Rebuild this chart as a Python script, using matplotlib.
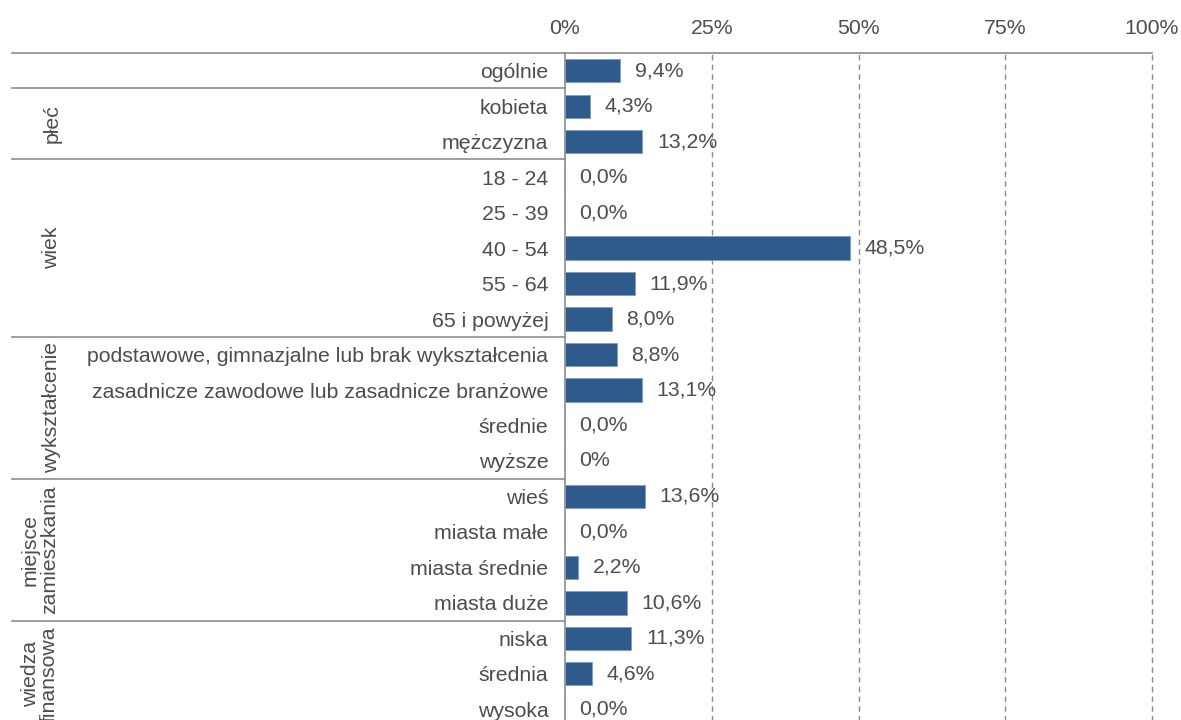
import matplotlib.pyplot as plt
from matplotlib.transforms import blended_transform_factory

plt.rcParams["font.family"] = ["Liberation Sans", "DejaVu Sans"]

# dane
categories = [
    "ogólnie",
    "kobieta", "mężczyzna",
    "18 - 24", "25 - 39", "40 - 54", "55 - 64", "65 i powyżej",
    "podstawowe, gimnazjalne lub brak wykształcenia",
    "zasadnicze zawodowe lub zasadnicze branżowe",
    "średnie", "wyższe",
    "wieś", "miasta małe", "miasta średnie", "miasta duże",
    "niska", "średnia", "wysoka",
]
values = [9.4, 4.3, 13.2, 0.0, 0.0, 48.5, 11.9, 8.0, 8.8, 13.1, 0.0, 0.0,
          13.6, 0.0, 2.2, 10.6, 11.3, 4.6, 0.0]
value_labels = ["9,4%", "4,3%", "13,2%", "0,0%", "0,0%", "48,5%", "11,9%", "8,0%",
                "8,8%", "13,1%", "0,0%", "0%", "13,6%", "0,0%", "2,2%", "10,6%",
                "11,3%", "4,6%", "0,0%"]
group_names = ["", "płeć", "wiek", "wykształcenie", "miejsce\nzamieszkania", "wiedza\nfinansowa"]
group_sizes = [1, 2, 5, 4, 4, 3]
x_ticks = [0, 25, 50, 75, 100]

BAR = "#2E5A8C"
TXT = "#4D4D4D"
LINE = "#8C8C8C"
FS = 15.3

fig = plt.figure(figsize=(11.81, 7.2), dpi=100)
left_px, right_px, top_px, bottom_px = 565, 1152, 53, 727
W, H = 1181, 720
ax = fig.add_axes([left_px / W, 1 - bottom_px / H,
                   (right_px - left_px) / W, (bottom_px - top_px) / H])

n = len(categories)
ypos = list(range(n))
ax.barh(ypos, values, height=0.66, color=BAR, edgecolor="#7E9CC4", linewidth=0.6, zorder=3)
ax.set_ylim(n - 0.5, -0.5)
ax.set_xlim(0, 100)

for y, v, lab in zip(ypos, values, value_labels):
    ax.annotate(lab, (v, y), xytext=(10.5, 0), textcoords="offset points",
                ha="left", va="center", fontsize=FS, color=TXT, zorder=4)

ax.set_yticks(ypos)
ax.set_yticklabels(categories, fontsize=FS, color=TXT)
ax.set_xticks(x_ticks)
ax.set_xticklabels([f"{t}%" for t in x_ticks], fontsize=FS, color=TXT)
ax.xaxis.tick_top()
ax.tick_params(axis="x", length=0, pad=11)
ax.tick_params(axis="y", length=0, pad=12)

for t in x_ticks[1:]:
    ax.axvline(t, color=LINE, linestyle=(0, (4, 3)), linewidth=1.0, zorder=1, clip_on=False)

for s in ["right", "bottom"]:
    ax.spines[s].set_visible(False)
ax.spines["left"].set_color(LINE)
ax.spines["top"].set_color(LINE)
ax.spines["left"].set_linewidth(1.2)
ax.spines["top"].set_linewidth(1.2)

# linie grup i etykiety grup
trans = blended_transform_factory(ax.transAxes, ax.transData)
x_start = (12 - left_px) / (right_px - left_px)
ax.plot([x_start, 0], [-0.5, -0.5], transform=trans, color=LINE, linewidth=1.2, clip_on=False)
start = 0
for name, size in zip(group_names, group_sizes):
    end = start + size
    if end < n:
        ax.plot([x_start, 0], [end - 0.5, end - 0.5], transform=trans,
                color=LINE, linewidth=1.2, clip_on=False)
    if name:
        xc = 52 if "\n" not in name else 40
        ax.text((xc - left_px) / (right_px - left_px), (start + end - 1) / 2, name,
                transform=trans, rotation=90, ha="center", va="center",
                fontsize=FS, color=TXT, linespacing=1.0, multialignment="center")
    start = end

fig.savefig("out.png", dpi=100)
